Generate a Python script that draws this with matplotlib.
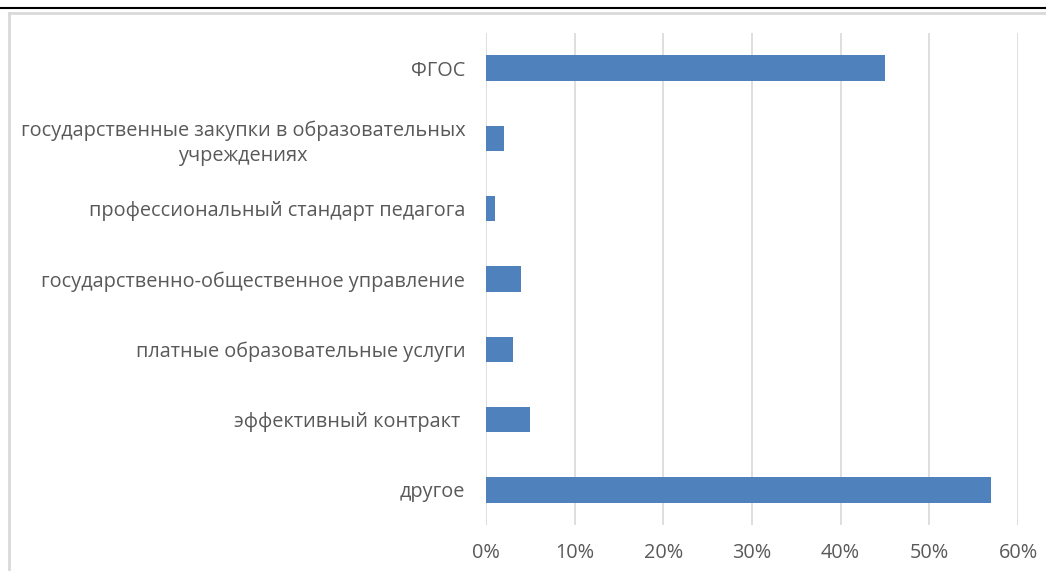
import matplotlib
matplotlib.use("Agg")
import matplotlib.pyplot as plt
from matplotlib.lines import Line2D
from matplotlib.ticker import PercentFormatter

categories = [
    "ФГОС",
    "государственные закупки в образовательных\nучреждениях",
    "профессиональный стандарт педагога",
    "государственно-общественное управление",
    "платные образовательные услуги",
    "эффективный контракт ",
    "другое",
]
values = [45, 2, 1, 4, 3, 5, 57]
xticks = [0, 10, 20, 30, 40, 50, 60]

plt.rcParams["font.family"] = ["Open Sans", "DejaVu Sans"]
text_c = "#595959"
grid_c = "#d9d9d9"

fig = plt.figure(figsize=(10.46, 5.71), dpi=100)
ax = fig.add_axes([486 / 1046, 1 - 525 / 571, 532 / 1046, 492 / 571])

pos = list(range(len(categories)))
ax.barh(pos, values, height=0.36, color="#4f81bd", zorder=3)
ax.set_ylim(len(categories) - 0.5, -0.5)
ax.set_xlim(0, 60)
ax.set_xticks(xticks)
ax.xaxis.set_major_formatter(PercentFormatter(decimals=0))
ax.set_yticks(pos)
ax.set_yticklabels(categories, multialignment="center", linespacing=1.35)
ax.tick_params(axis="y", length=0, pad=15, labelsize=14.3, labelcolor=text_c)
ax.tick_params(axis="x", length=0, pad=13, labelsize=14.3, labelcolor=text_c)
ax.grid(axis="x", color=grid_c, linewidth=1.2, zorder=0)
for s in ax.spines.values():
    s.set_visible(False)

# chart frame and top rule from the screenshot
fig.add_artist(Line2D([0, 1], [1 - 7.5 / 571] * 2, color="black", linewidth=1.5))
fig.add_artist(Line2D([8.5 / 1046, 1], [1 - 12.5 / 571] * 2, color=grid_c, linewidth=2))
fig.add_artist(Line2D([8.5 / 1046] * 2, [1 - 12.5 / 571, 0], color=grid_c, linewidth=2))

fig.savefig("out.png", dpi=100)
